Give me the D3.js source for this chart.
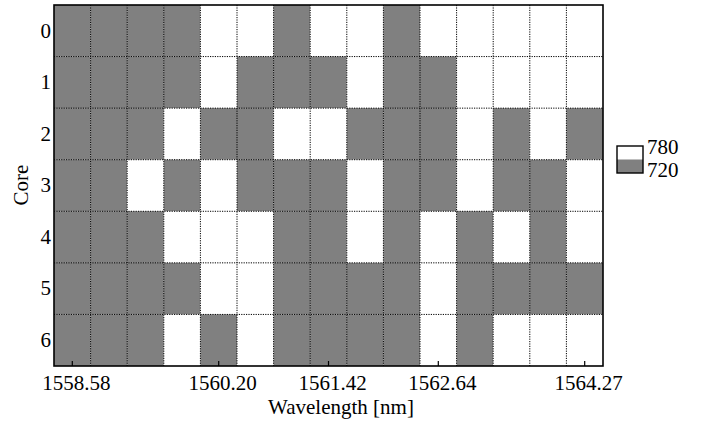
<!DOCTYPE html>
<html>
<head>
<meta charset="utf-8">
<script src="https://cdn.jsdelivr.net/npm/d3@7"></script>
<style>
  body { margin: 0; background: #fff; }
  svg text { font-family: "Liberation Serif", "DejaVu Serif", serif; font-size: 21px; fill: #000; }
</style>
</head>
<body>
<svg id="chart" width="709" height="422"></svg>
<script>
// wavelength channels (nm), one column each
var wavelengths = ["1558.58", "1558.98", "1559.39", "1559.79", "1560.20", "1560.61", "1561.01", "1561.42",
                   "1561.83", "1562.23", "1562.64", "1563.05", "1563.45", "1563.86", "1564.27"];
var cores = ["0", "1", "2", "3", "4", "5", "6"];
var tickLabels = ["1558.58", "1560.20", "1561.42", "1562.64", "1564.27"];
var legendValues = [780, 720];

// value per core, per wavelength
var core0 = [720, 720, 720, 720, 780, 780, 720, 780, 780, 720, 780, 780, 780, 780, 780];
var core1 = [720, 720, 720, 720, 780, 720, 720, 720, 780, 720, 720, 780, 780, 780, 780];
var core2 = [720, 720, 720, 780, 720, 720, 780, 780, 720, 720, 720, 780, 720, 780, 720];
var core3 = [720, 720, 780, 720, 780, 720, 720, 720, 780, 720, 720, 780, 720, 720, 780];
var core4 = [720, 720, 720, 780, 780, 780, 720, 720, 780, 720, 780, 720, 780, 720, 780];
var core5 = [720, 720, 720, 720, 780, 780, 720, 720, 720, 720, 780, 720, 720, 720, 720];
var core6 = [720, 720, 720, 780, 720, 780, 720, 720, 720, 720, 780, 720, 780, 780, 780];
var rows = [core0, core1, core2, core3, core4, core5, core6];

var margin = { top: 5, left: 54, right: 106, bottom: 56 };
var svg = d3.select("#chart");
var width = +svg.attr("width") - margin.left - margin.right;
var height = +svg.attr("height") - margin.top - margin.bottom;

var chart = svg.append("g")
    .attr("transform", `translate(${margin.left}, ${margin.top})`);

var x = d3.scaleBand().domain(wavelengths).range([0, width]).padding(0);
var y = d3.scaleBand().domain(cores).range([0, height]).padding(0);
var color = d3.scaleOrdinal().domain([720, 780]).range(["#808080", "#ffffff"]);

var cells = [];
rows.forEach(function(r, i) {
    r.forEach(function(v, j) {
        cells.push({ core: cores[i], wl: wavelengths[j], v: v });
    });
});

chart.selectAll("rect.cell")
    .data(cells)
    .enter().append("rect")
    .attr("class", "cell")
    .attr("x", d => x(d.wl))
    .attr("y", d => y(d.core))
    .attr("width", x.bandwidth())
    .attr("height", y.bandwidth())
    .attr("fill", d => color(d.v));

// dotted grid on cell borders
chart.selectAll("line.vgrid")
    .data(wavelengths.slice(1))
    .enter().append("line")
    .attr("x1", d => x(d)).attr("x2", d => x(d))
    .attr("y1", 0).attr("y2", height)
    .attr("stroke", "#000").attr("stroke-width", 1)
    .attr("stroke-dasharray", "1.2,1.2");

chart.selectAll("line.hgrid")
    .data(cores.slice(1))
    .enter().append("line")
    .attr("y1", d => y(d)).attr("y2", d => y(d))
    .attr("x1", 0).attr("x2", width)
    .attr("stroke", "#000").attr("stroke-width", 1)
    .attr("stroke-dasharray", "1.2,1.2");

// axes
var xAxis = chart.append("g")
    .attr("transform", `translate(0, ${height})`)
    .call(d3.axisBottom(x).tickValues(tickLabels).tickSizeInner(-5).tickSizeOuter(0).tickPadding(9));
xAxis.select(".domain").remove();
xAxis.selectAll(".tick line").attr("stroke", "#000").attr("stroke-width", 1.2);
xAxis.selectAll(".tick text").attr("dx", 4).style("font-size", "21px");

var yAxis = chart.append("g")
    .call(d3.axisLeft(y).tickSize(0).tickPadding(3));
yAxis.select(".domain").remove();
yAxis.selectAll(".tick text").style("font-size", "21px");

chart.append("rect")
    .attr("width", width).attr("height", height)
    .attr("fill", "none").attr("stroke", "#000").attr("stroke-width", 1.6);

// axis titles
svg.append("text")
    .attr("x", 341).attr("y", 414)
    .attr("text-anchor", "middle")
    .text("Wavelength [nm]");

svg.append("text")
    .attr("transform", "translate(28, 185) rotate(-90)")
    .attr("text-anchor", "middle")
    .text("Core");

// legend
var legend = svg.append("g").attr("transform", "translate(617, 146)");
legend.selectAll("rect")
    .data(legendValues)
    .enter().append("rect")
    .attr("x", 0).attr("y", (d, i) => i * 13.5)
    .attr("width", 26).attr("height", 13.5)
    .attr("fill", d => color(d));
legend.append("rect")
    .attr("width", 26).attr("height", 27)
    .attr("fill", "none").attr("stroke", "#000").attr("stroke-width", 1.4);
legend.selectAll("text")
    .data(legendValues)
    .enter().append("text")
    .attr("x", 30).attr("y", (d, i) => 7.5 + i * 23.5)
    .text(d => d);
</script>
</body>
</html>
